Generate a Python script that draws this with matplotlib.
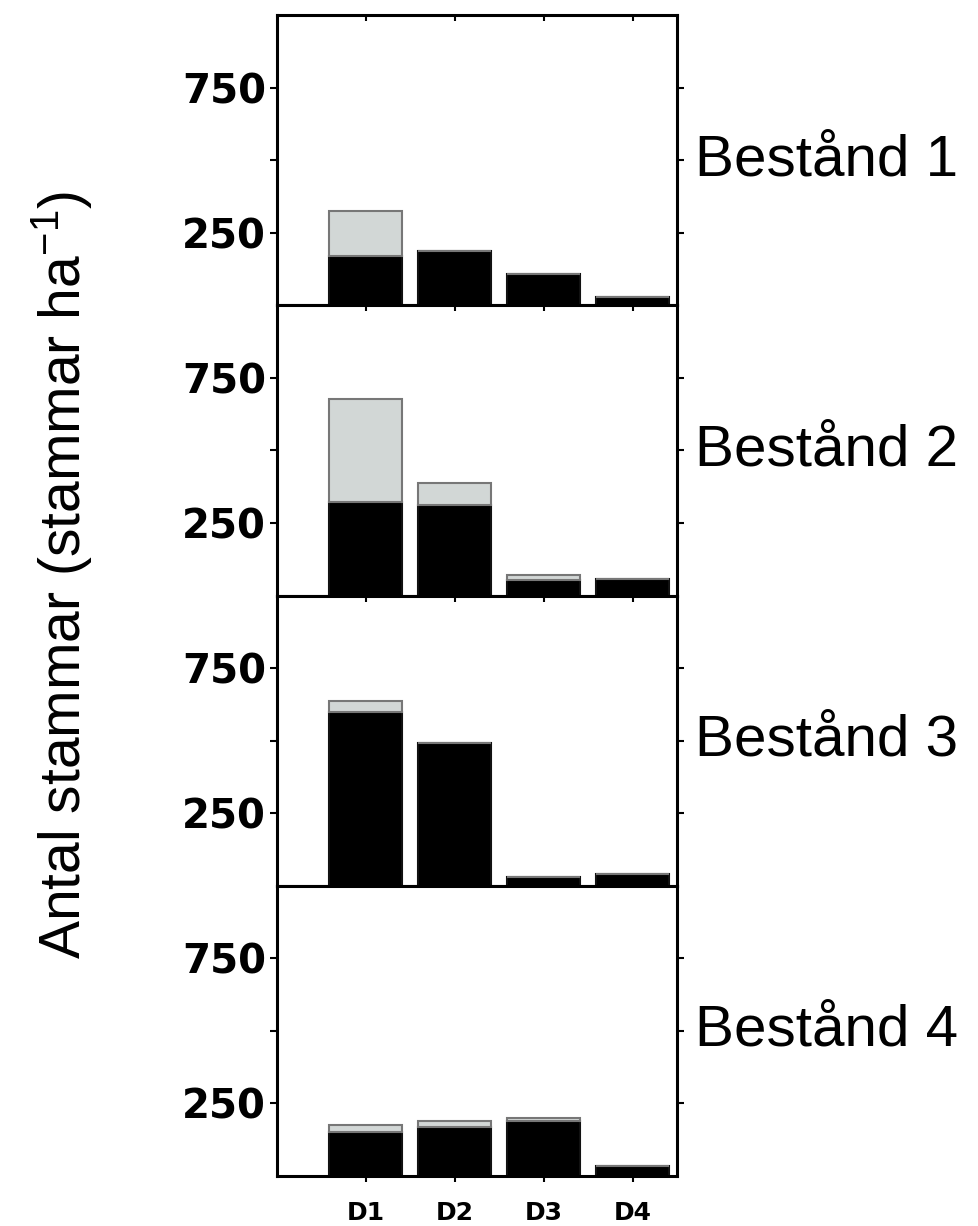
import numpy as np
import matplotlib
matplotlib.use('Agg')
import matplotlib.pyplot as plt

# diameter classes and stands
classes = ['D1', 'D2', 'D3', 'D4']
stands = ['Bestånd 1', 'Bestånd 2', 'Bestånd 3', 'Bestånd 4']

# black (lower) part of each bar, stammar/ha
black_1 = [170, 187, 107, 28]
black_2 = [323, 312, 52, 56]
black_3 = [600, 493, 31, 42]
black_4 = [153, 170, 191, 35]

# light grey (upper) part stacked on top
grey_1 = [153, 0, 0, 0]
grey_2 = [354, 77, 17, 0]
grey_3 = [35, 0, 0, 0]
grey_4 = [21, 18, 10, 0]

blacks = [black_1, black_2, black_3, black_4]
greys = [grey_1, grey_2, grey_3, grey_4]

plt.rcParams['font.family'] = ['Liberation Sans', 'DejaVu Sans']

fig = plt.figure(figsize=(9.79, 12.26), dpi=100)

left = 277 / 979.
width = 400 / 979.
h = 290.25 / 1226.
bottom0 = 1 - 1176 / 1226.

x = np.arange(1, len(classes) + 1)

for i in range(4):
    ax = fig.add_axes([left, bottom0 + (3 - i) * h, width, h])
    ax.bar(x, blacks[i], width=0.82, color='black', edgecolor='#111111', linewidth=1.5)
    ax.bar(x, greys[i], width=0.82, bottom=blacks[i], color='#d2d7d6',
           edgecolor='#777777', linewidth=1.5)
    ax.set_xlim(0, 4.5)
    ax.set_ylim(0, 1000)
    ax.set_yticks([250, 500, 750])
    ax.set_yticklabels(['250', '', '750'], fontfamily='DejaVu Sans',
                       fontweight='bold', fontsize=29)
    ax.set_xticks(x)
    ax.tick_params(axis='y', direction='out', length=5, width=1.5, pad=3)
    ax.tick_params(axis='y', which='major', right=True)
    ax.tick_params(axis='x', direction='in', length=4, width=1.5, top=True)
    if i == 3:
        ax.set_xticklabels(classes, fontfamily='DejaVu Sans', fontweight='bold',
                           fontsize=18)
        ax.tick_params(axis='x', direction='out', pad=14)
    else:
        ax.set_xticklabels([])
    for sp in ax.spines.values():
        sp.set_linewidth(2.2)
        sp.set_color('black')
    ax.text(1.045, 0.5, stands[i], transform=ax.transAxes, ha='left',
            va='center', fontsize=42)

fig.text(62 / 979., 1 - 575 / 1226., 'Antal stammar (stammar ha$^{\\mathregular{-1}}$)',
         rotation=90, ha='center', va='center', fontsize=41)

fig.savefig('out.png', dpi=100)
